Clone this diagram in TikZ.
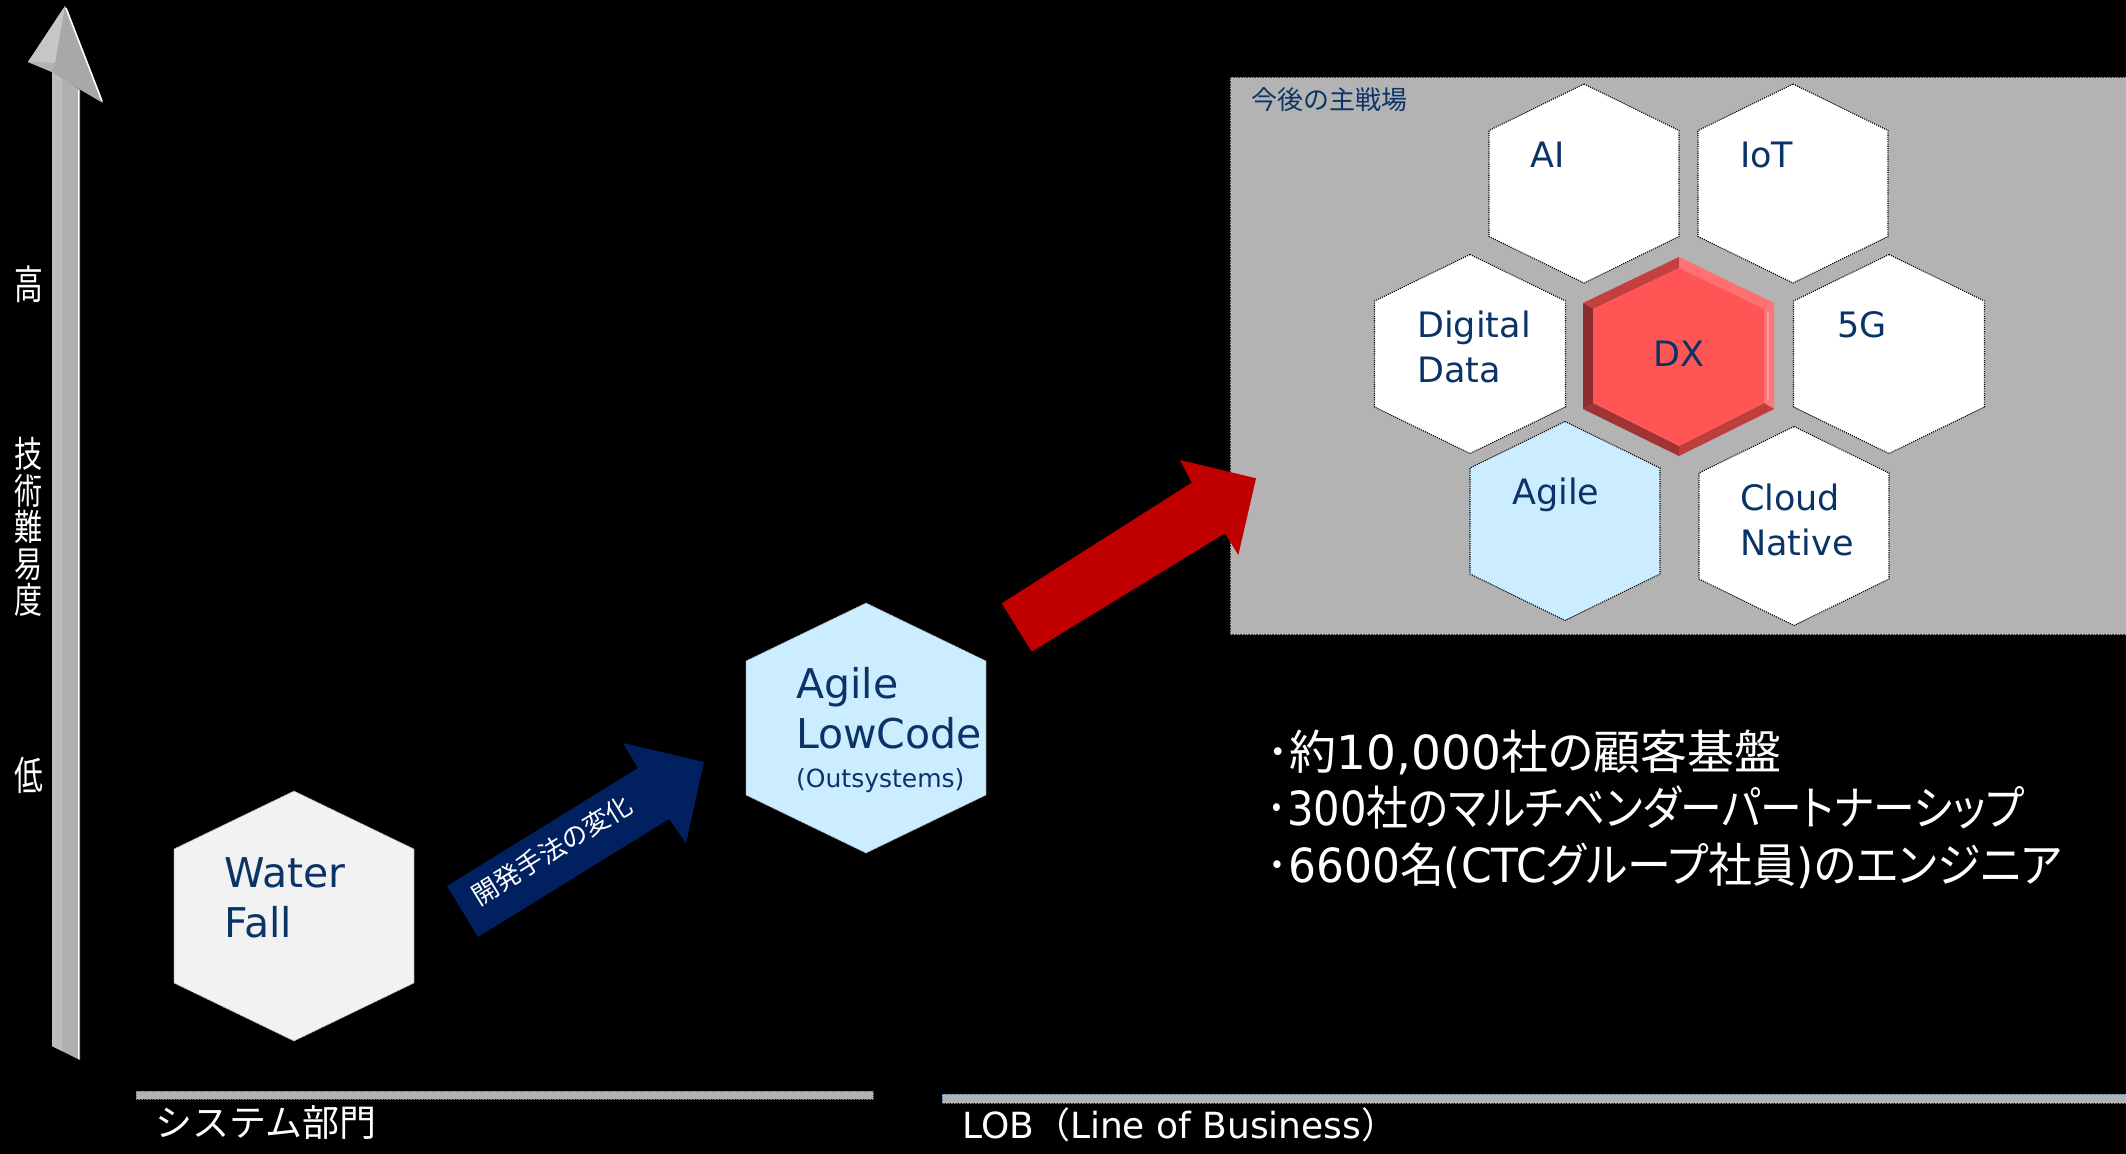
\documentclass[tikz,border=0pt]{standalone}
\usepackage{fontspec}
\usepackage{graphicx}
\setmainfont{DejaVu Sans}
\newfontfamily\jp{Noto Sans CJK JP}
\newfontfamily\jpp[RawFeature=+palt]{Noto Sans CJK JP}
\newfontfamily\latn{DejaVu Sans}

\definecolor{navytxt}{RGB}{10,52,104}
\definecolor{arrownavy}{RGB}{0,32,96}
\definecolor{arrowred}{RGB}{192,0,0}
\definecolor{panelgray}{RGB}{179,179,179}
\definecolor{paleblue}{RGB}{204,236,255}
\definecolor{paleGray}{RGB}{242,242,242}
\definecolor{dxred}{RGB}{255,85,85}
\definecolor{barline}{RGB}{91,127,166}
\definecolor{bevelTL}{RGB}{196,64,64}
\definecolor{bevelTR}{RGB}{255,112,112}
\definecolor{bevelR}{RGB}{250,120,120}
\definecolor{bevelBR}{RGB}{190,62,62}
\definecolor{bevelBL}{RGB}{160,52,52}
\definecolor{bevelL}{RGB}{140,46,46}
\definecolor{bevelHi}{RGB}{255,150,150}

% hexagon with vertical sides: [options]{cx}{cy}{half width}{half height}{half side}
\newcommand\hexshape[6][]{%
  \path[#1] (#2,#3-#5) -- (#2+#4,#3-#6) -- (#2+#4,#3+#6) -- (#2,#3+#5)
    -- (#2-#4,#3+#6) -- (#2-#4,#3-#6) -- cycle;}

\tikzset{
  hexcell/.style={fill=white, draw=black, line width=1.1pt, dash pattern=on 1.1pt off 1.1pt},
  hexlabel/.style={anchor=base west, inner sep=0pt, text=navytxt, font=\fontsize{35}{42}\selectfont},
  biglabel/.style={anchor=base west, inner sep=0pt, text=navytxt, font=\fontsize{41}{49}\selectfont},
  whitejp/.style={inner sep=0pt, text=white},
  bullet/.style={anchor=base west, inner sep=0pt, text=white, font=\fontsize{47}{56}\selectfont},
  bar/.style={fill=panelgray, draw=barline, line width=0.8pt, dash pattern=on 0.8pt off 0.8pt},
}

\begin{document}
\begin{tikzpicture}[x=1pt,y=-1pt]
\fill[black] (0,0) rectangle (2126,1154);
\useasboundingbox (0,0) rectangle (2126,1154);

% ---- vertical difficulty axis (3D arrow) ----
\fill[gray!62] (52,70) -- (80,90) -- (80,1060) -- (52,1046) -- cycle;
\fill[gray!52] (52,70) -- (62,77) -- (62,1051) -- (52,1046) -- cycle;
\draw[white, line width=1.6pt] (78.5,90) -- (78.5,1059);
\fill[gray!68] (65,6) -- (103,103) -- (79,89) -- (52,72) -- (28,62) -- cycle;
\fill[gray!45] (65,6) -- (28,62) -- (55,63) -- cycle;
\fill[gray!60] (28,62) -- (55,63) -- (52,72) -- cycle;
\draw[white, line width=1.6pt] (66,8) -- (102,101);

\node[whitejp, font=\jp\fontsize{40}{40}\selectfont, xscale=0.72] (hi) at (29,284) {高};
\node[whitejp, font=\jp\fontsize{36}{36.4}\selectfont, xscale=0.78, align=center] (diff) at (29,527) {技\\術\\難\\易\\度};
\node[whitejp, font=\jp\fontsize{40}{40}\selectfont, xscale=0.72] (lo) at (29,775) {低};

% ---- development style hexagons ----
\hexshape[fill=paleGray, draw=gray!70, line width=0.8pt, dash pattern=on 0.8pt off 0.8pt]{294}{916}{120}{125}{67}
\node[biglabel] (wf1) at (224,887) {Water};
\node[biglabel] (wf2) at (224,937) {Fall};

\hexshape[fill=paleblue, draw=gray!70, line width=0.8pt, dash pattern=on 0.8pt off 0.8pt]{866}{728}{120}{125}{67}
\node[biglabel] (lc1) at (796,698) {Agile};
\node[biglabel] (lc2) at (796,748) {LowCode};
\node[anchor=base west, inner sep=0pt, text=navytxt, font=\fontsize{25}{30}\selectfont] (lc3) at (796,787) {(Outsystems)};

% ---- method change arrow ----
\fill[arrownavy] (447,886) -- (638,768) -- (623,743) -- (704,762) -- (686,843) -- (669,819) -- (478,937) -- cycle;
\node[whitejp, font=\jp\fontsize{26}{26}\selectfont, rotate=31.7] (chg) at (552,850) {開発手法の変化};

% ---- future battlefield panel ----
\fill[panelgray] (1230,77) rectangle (2126,635);
\draw[gray!45!black, line width=0.8pt, dash pattern=on 0.8pt off 0.8pt] (1230.4,635) -- (1230.4,77.4) -- (2126,77.4);
\draw[gray!45!black, line width=0.8pt, dash pattern=on 0.8pt off 0.8pt] (1230,634.6) -- (2126,634.6);
\node[anchor=base west, inner sep=0pt, text=navytxt, font=\jp\fontsize{26}{26}\selectfont] (field) at (1251,109) {今後の主戦場};

\hexshape[hexcell]{1584}{183.5}{95}{99.5}{53}
\hexshape[hexcell]{1793}{183.5}{95}{99.5}{53}
\hexshape[hexcell]{1470}{354}{95.5}{99.5}{53}
\hexshape[hexcell]{1889}{354}{95.5}{99.5}{53}
\hexshape[hexcell, fill=paleblue]{1565}{521}{95}{99.5}{53}
\hexshape[hexcell]{1794}{526}{95}{99.5}{53}

% DX hexagon with bevelled edges
\fill[bevelTL] (1679,257) -- (1679,268) -- (1593,309) -- (1583,303) -- cycle;
\fill[bevelTR] (1679,257) -- (1774,303) -- (1764,309) -- (1679,268) -- cycle;
\fill[bevelR] (1774,303) -- (1774,409) -- (1764,403) -- (1764,309) -- cycle;
\fill[bevelBR] (1774,409) -- (1679,456) -- (1679,446) -- (1764,403) -- cycle;
\fill[bevelBL] (1679,456) -- (1583,409) -- (1593,403) -- (1679,446) -- cycle;
\fill[bevelL] (1583,409) -- (1583,303) -- (1593,309) -- (1593,403) -- cycle;
\fill[dxred] (1679,268) -- (1764,309) -- (1764,403) -- (1679,446) -- (1593,403) -- (1593,309) -- cycle;
\draw[bevelHi, line width=1.5pt] (1768,312) -- (1768,400);

\node[hexlabel] (ai) at (1530,167) {AI};
\node[hexlabel] (iot) at (1740,167) {IoT};
\node[hexlabel] (dd1) at (1417,337) {Digital};
\node[hexlabel] (dd2) at (1417,382) {Data};
\node[hexlabel, anchor=base] (dx) at (1679,366) {DX};
\node[hexlabel] (fiveg) at (1837,337) {5G};
\node[hexlabel] (agile) at (1512,504) {Agile};
\node[hexlabel] (cn1) at (1740,510) {Cloud};
\node[hexlabel] (cn2) at (1740,555) {Native};

% ---- growth arrow ----
\fill[arrowred] (1001.7,603.3) -- (1191.7,482.7) -- (1180,460) -- (1256,478.3) -- (1238.3,555) -- (1225,533.3) -- (1031.7,651.7) -- cycle;

% ---- strengths ----
\node[bullet] (s1) at (1266,769) {\jpp ･約{\latn 10,000}社の顧客基盤};
\node[bullet] (s2) at (1266,825) {\scalebox{0.888}[1]{\jpp ･{\latn 300}社のマルチベンダーパートナーシップ}};
\node[bullet] (s3) at (1266,882) {\scalebox{0.935}[1]{\jpp ･{\latn 6600}名{\latn (CTC}グループ社員{\latn )}のエンジニア}};

% ---- organisation bars ----
\path[bar] (136,1091) rectangle (873,1099);
\path[bar] (942,1094) rectangle (2126,1103);
\node[anchor=base west, inner sep=0pt, text=white, font=\jp\fontsize{37}{37}\selectfont] (sys) at (155,1136) {システム部門};
\node[anchor=base west, inner sep=0pt, text=white, font=\fontsize{36}{36}\selectfont] (lob) at (962,1138) {LOB{\jp （}Line of Business{\jp ）}};
\end{tikzpicture}
\end{document}
